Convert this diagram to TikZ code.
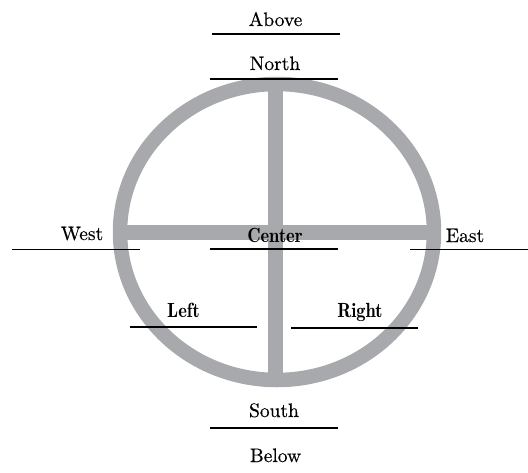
\documentclass[tikz,border=0pt]{standalone}
\usepackage{fontspec}
\newfontfamily\rgfont[FakeBold=0.4]{lmroman10-regular.otf}
\newfontfamily\sbfont[FakeStretch=0.9]{lmromandemi10-regular.otf}
\definecolor{ringgray}{RGB}{168,169,172}
\begin{document}
\begin{tikzpicture}[x=1pt,y=-1pt,
  lbl/.style={font=\fontsize{19.5}{23}\selectfont\rgfont, anchor=base, inner sep=0pt},
  sblbl/.style={lbl, font=\fontsize{20.5}{24}\selectfont\sbfont},
  rule/.style={line width=1.3pt, black},
  ring/.style={draw=ringgray, line width=14.5pt}]
\useasboundingbox (0,0) rectangle (528,472);
% circle and cross
\coordinate (c) at (277,232);
\draw[ring] (c) ellipse [x radius=157pt, y radius=148pt];
\coordinate (vt) at (275.5,84);
\coordinate (vb) at (275.5,380);
\coordinate (hl) at (120,232.5);
\coordinate (hr) at (434,232.5);
\draw[ring] (vt) -- (vb);
\draw[ring] (hl) -- (hr);
% rules
\coordinate (a1) at (212,34);  \coordinate (a2) at (340,34);
\coordinate (n1) at (210,79);  \coordinate (n2) at (338,79);
\coordinate (w1) at (12,249.5);  \coordinate (w2) at (140,249.5);
\coordinate (c1) at (210,249);  \coordinate (c2) at (338,249);
\coordinate (e1) at (410,249.5); \coordinate (e2) at (528,249.5);
\coordinate (l1) at (130,327); \coordinate (l2) at (257,327);
\coordinate (r1) at (291,328); \coordinate (r2) at (418,328);
\coordinate (s1) at (210,428); \coordinate (s2) at (338,428);
\foreach \p in {a,n,w,c,e,l,r,s} {\draw[rule] (\p1) -- (\p2);}
% labels
\node[lbl] (above) at (275.5,26) {Above};
\node[lbl] (north) at (275,70) {North};
\node[lbl] (west) at (82,240) {West};
\node[sblbl] (center) at (275,242) {Center};
\node[lbl] (east) at (465,242) {East};
\node[sblbl] (left) at (183.5,317) {Left};
\node[sblbl] (right) at (360,317) {Right};
\node[lbl] (south) at (274,417) {South};
\node[lbl] (below) at (275.5,462) {Below};
\end{tikzpicture}
\end{document}
